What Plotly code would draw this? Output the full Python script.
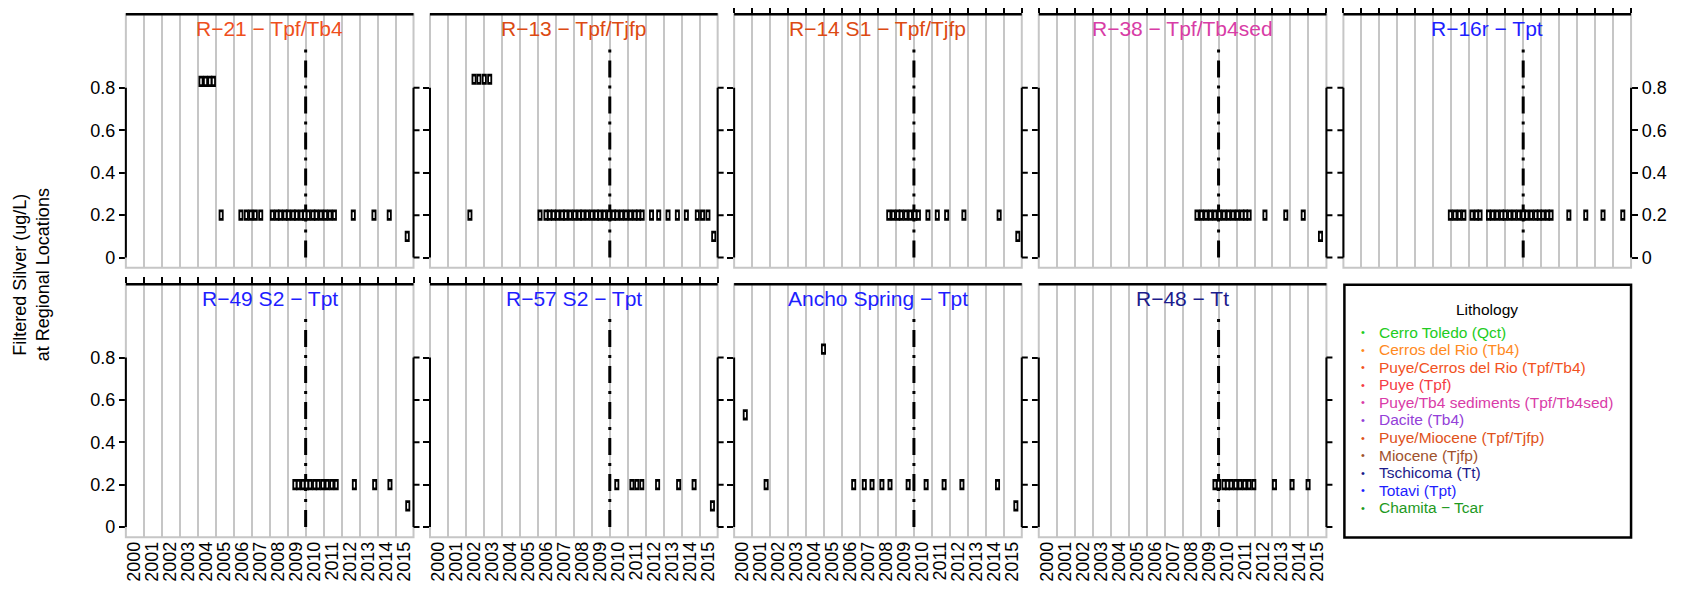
import plotly.graph_objects as go

# ---------------- data ----------------
panel_titles = ["R−21 − Tpf/Tb4", "R−13 − Tpf/Tjfp", "R−14 S1 − Tpf/Tjfp", "R−38 − Tpf/Tb4sed",
                "R−16r − Tpt", "R−49 S2 − Tpt", "R−57 S2 − Tpt", "Ancho Spring − Tpt", "R−48 − Tt"]
panel_title_colors = ["#EE4F1C", "#DC4A12", "#DC4A12", "#D83CA6", "#1E1EFF",
                      "#1E1EFF", "#1E1EFF", "#1E1EFF", "#1C1C8C"]

r21_dates = [2004.18, 2004.43, 2004.67, 2004.87,
             2005.3, 2006.4, 2006.7, 2006.95, 2007.2, 2007.5,
             2008.15, 2008.4, 2008.6, 2008.85, 2009.05, 2009.3, 2009.5, 2009.75, 2009.95,
             2010.15, 2010.4, 2010.6, 2010.85, 2011.1, 2011.35, 2011.6,
             2012.65, 2013.8, 2014.65, 2015.65]
r21_vals = [0.83, 0.83, 0.83, 0.83,
            0.2, 0.2, 0.2, 0.2, 0.2, 0.2,
            0.2, 0.2, 0.2, 0.2, 0.2, 0.2, 0.2, 0.2, 0.2,
            0.2, 0.2, 0.2, 0.2, 0.2, 0.2, 0.2,
            0.2, 0.2, 0.2, 0.1]

r13_dates = [2002.45, 2002.72, 2003.02, 2003.32, 2002.22,
             2006.12, 2006.45, 2006.65, 2006.87, 2007.1, 2007.35, 2007.55, 2007.8, 2008.05,
             2008.3, 2008.5, 2008.75, 2009.0, 2009.25, 2009.45, 2009.7, 2009.95, 2010.2,
             2010.4, 2010.65, 2010.9, 2011.15, 2011.4, 2011.6, 2011.8,
             2012.32, 2012.72, 2013.24, 2013.76, 2014.26, 2014.87, 2015.16, 2015.46, 2015.78]
r13_vals = [0.84, 0.84, 0.84, 0.84, 0.2,
            0.2, 0.2, 0.2, 0.2, 0.2, 0.2, 0.2, 0.2, 0.2,
            0.2, 0.2, 0.2, 0.2, 0.2, 0.2, 0.2, 0.2, 0.2,
            0.2, 0.2, 0.2, 0.2, 0.2, 0.2, 0.2,
            0.2, 0.2, 0.2, 0.2, 0.2, 0.2, 0.2, 0.2, 0.1]

r14_dates = [2008.6, 2008.85, 2009.1, 2009.3, 2009.55, 2009.8, 2010.05, 2010.25,
             2010.78, 2011.3, 2011.82, 2012.78, 2014.74, 2015.78]
r14_vals = [0.2, 0.2, 0.2, 0.2, 0.2, 0.2, 0.2, 0.2,
            0.2, 0.2, 0.2, 0.2, 0.2, 0.1]

r38_dates = [2008.8, 2009.05, 2009.3, 2009.55, 2009.8, 2010.05, 2010.3, 2010.55, 2010.8,
             2011.05, 2011.3, 2011.5, 2011.7, 2012.58, 2013.74, 2014.71, 2015.67]
r38_vals = [0.2, 0.2, 0.2, 0.2, 0.2, 0.2, 0.2, 0.2, 0.2,
            0.2, 0.2, 0.2, 0.2, 0.2, 0.2, 0.2, 0.1]

r16r_dates = [2005.95, 2006.2, 2006.45, 2006.7, 2007.15, 2007.4, 2007.6,
              2008.07, 2008.3, 2008.55, 2008.8, 2009.0, 2009.25, 2009.5, 2009.75, 2010.0,
              2010.2, 2010.45, 2010.7, 2010.9, 2011.1, 2011.35, 2011.55,
              2012.54, 2013.48, 2014.44, 2015.54]
r16r_vals = [0.2] * 27

r49_dates = [2009.4, 2009.6, 2009.85, 2010.05, 2010.25, 2010.5, 2010.7, 2010.95, 2011.2,
             2011.45, 2011.7, 2012.71, 2013.84, 2014.69, 2015.68]
r49_vals = [0.2, 0.2, 0.2, 0.2, 0.2, 0.2, 0.2, 0.2, 0.2,
            0.2, 0.2, 0.2, 0.2, 0.2, 0.1]

r57_dates = [2010.39, 2011.23, 2011.5, 2011.78, 2012.66, 2013.83, 2014.69, 2015.71]
r57_vals = [0.2, 0.2, 0.2, 0.2, 0.2, 0.2, 0.2, 0.1]

ancho_dates = [2000.62, 2001.78, 2004.97, 2006.65, 2007.24, 2007.67, 2008.22, 2008.67,
               2009.68, 2010.68, 2011.68, 2012.67, 2014.65, 2015.67]
ancho_vals = [0.53, 0.2, 0.84, 0.2, 0.2, 0.2, 0.2, 0.2,
              0.2, 0.2, 0.2, 0.2, 0.2, 0.1]

r48_dates = [2009.8, 2010.0, 2010.3, 2010.5, 2010.7, 2010.95, 2011.2, 2011.45, 2011.7,
             2011.96, 2013.11, 2014.09, 2014.98]
r48_vals = [0.2] * 13

panel_dates = [r21_dates, r13_dates, r14_dates, r38_dates, r16r_dates,
               r49_dates, r57_dates, ancho_dates, r48_dates]
panel_vals = [r21_vals, r13_vals, r14_vals, r38_vals, r16r_vals,
              r49_vals, r57_vals, ancho_vals, r48_vals]

ref_year = 2010
ref_line_y = [0, 1.0]

year_ticks = list(range(2000, 2017))
year_labels = [str(y) for y in range(2000, 2016)]
y_ticks = [0, 0.2, 0.4, 0.6, 0.8]
y_tick_text = ["0", "0.2", "0.4", "0.6", "0.8"]

legend_labels = ["Cerro Toledo (Qct)", "Cerros del Rio (Tb4)", "Puye/Cerros del Rio (Tpf/Tb4)",
                 "Puye (Tpf)", "Puye/Tb4 sediments (Tpf/Tb4sed)", "Dacite (Tb4)",
                 "Puye/Miocene (Tpf/Tjfp)", "Miocene (Tjfp)", "Tschicoma (Tt)", "Totavi (Tpt)",
                 "Chamita − Tcar"]
legend_colors = ["#22CC22", "#FF8A1E", "#F2521E", "#F53B45", "#D93BA8", "#9440D8",
                 "#E0521A", "#A0522D", "#1C1C8C", "#1E1EFF", "#1E9A1E"]

# ---------------- layout geometry ----------------
PAGE_OFF = 8                      # default page body margin
W, H = 1683 - PAGE_OFF, 594 - PAGE_OFF


def px_x(px):
    return (px - PAGE_OFF) / W


def px_y(py):
    return 1 - (py - PAGE_OFF) / H


FONT = "Liberation Sans, Arial, Helvetica, sans-serif"
GRID = "#C6C6C6"
col_left = [124, 428.5, 733, 1038, 1343]
panel_w = 288
row_top = [9.3, 281.7]
row_bot = [265, 536.7]
y_range = [-0.048, 1.146]
top_ticks = [False, False, True, True, True, True, True, False, False]
label_offset = 0.47
TICK = 6

fig = go.Figure()
layout = dict(width=W, height=H, margin=dict(l=0, r=0, t=0, b=0),
              paper_bgcolor="white", plot_bgcolor="white", showlegend=False,
              font=dict(family=FONT, color="black"))
shapes = []
annotations = []

for k in range(9):
    row, col = divmod(k, 5)
    sfx = "" if k == 0 else str(k + 1)
    xd = [px_x(col_left[col]), px_x(col_left[col] + panel_w)]
    yd = [px_y(row_bot[row]), px_y(row_top[row])]
    layout["xaxis" + sfx] = dict(
        domain=xd, range=[2000, 2016], anchor="y" + sfx, side="top",
        tickmode="array", tickvals=year_ticks, showticklabels=False,
        showgrid=True, gridcolor=GRID, gridwidth=2,
        ticks="outside" if top_ticks[k] else "", ticklen=TICK, tickwidth=2, tickcolor="black",
        zeroline=False, showline=False, fixedrange=True)
    right_side = (k == 4)
    layout["yaxis" + sfx] = dict(
        domain=yd, range=y_range, anchor="x" + sfx,
        side="right" if right_side else "left",
        tickmode="array", tickvals=y_ticks, ticktext=y_tick_text,
        showticklabels=k in (0, 4, 5), tickfont=dict(size=18, family=FONT, color="black"),
        ticks="outside", ticklen=TICK, tickwidth=2, tickcolor="black",
        showgrid=False, zeroline=False, showline=False, fixedrange=True)
    if row == 1:
        lab_sfx = str(10 + col)
        layout["xaxis" + lab_sfx] = dict(
            overlaying="x" + sfx, anchor="y" + sfx, side="bottom", range=[2000, 2016],
            tickmode="array", tickvals=[int(s) + label_offset for s in year_labels],
            ticktext=year_labels, tickangle=-90, ticks="",
            tickfont=dict(size=18, family=FONT, color="black"),
            showgrid=False, zeroline=False, showline=False, fixedrange=True)
        fig.add_trace(go.Scatter(x=[None], y=[None], mode="markers", xaxis="x" + lab_sfx,
                                 yaxis="y" + sfx, hoverinfo="skip"))

    # panel frame (grey), black top edge
    shapes.append(dict(type="rect", xref="x" + sfx + " domain", yref="y" + sfx + " domain",
                       x0=0, x1=1, y0=0, y1=1, line=dict(color=GRID, width=2)))
    shapes.append(dict(type="line", xref="x" + sfx + " domain", yref="y" + sfx + " domain",
                       x0=0, x1=1, y0=1, y1=1, line=dict(color="black", width=2.5)))
    # R-style y axis lines spanning the tick range on both sides
    for xe in (0, 1):
        shapes.append(dict(type="line", xref="x" + sfx + " domain", yref="y" + sfx,
                           x0=xe, x1=xe, y0=y_ticks[0], y1=y_ticks[-1],
                           line=dict(color="black", width=2)))
    # ticks on the side opposite the axis
    opp = 0 if right_side else 1
    direction = -1 if opp == 0 else 1
    for t in y_ticks:
        shapes.append(dict(type="line", xref="x" + sfx + " domain", yref="y" + sfx,
                           xsizemode="pixel", xanchor=opp, x0=0, x1=direction * TICK,
                           y0=t, y1=t, line=dict(color="black", width=2)))

    # reference (2010) dash-dot line
    fig.add_trace(go.Scatter(x=[ref_year, ref_year], y=ref_line_y, mode="lines",
                             line=dict(color="black", width=3, dash="17px,8px,3px,8px"),
                             xaxis="x" + sfx, yaxis="y" + sfx, hoverinfo="skip"))
    # data markers: black bar with white slit
    fig.add_trace(go.Scatter(x=panel_dates[k], y=panel_vals[k], mode="markers",
                             marker=dict(symbol="line-ns", size=8,
                                         line=dict(color="black", width=5)),
                             xaxis="x" + sfx, yaxis="y" + sfx))
    fig.add_trace(go.Scatter(x=panel_dates[k], y=panel_vals[k], mode="markers",
                             marker=dict(symbol="line-ns", size=4,
                                         line=dict(color="white", width=1.4)),
                             xaxis="x" + sfx, yaxis="y" + sfx, hoverinfo="skip"))
    # panel title
    annotations.append(dict(text=panel_titles[k], xref="x" + sfx + " domain",
                            yref="y" + sfx + " domain", x=0.5, y=1, xanchor="center",
                            yanchor="top", yshift=-1, showarrow=False,
                            font=dict(size=21, family=FONT, color=panel_title_colors[k])))

# legend panel
leg_x0, leg_x1, leg_y0, leg_y1 = 1344, 1631, 282, 537
shapes.append(dict(type="rect", xref="paper", yref="paper",
                   x0=px_x(leg_x0), x1=px_x(leg_x1), y0=px_y(leg_y1), y1=px_y(leg_y0),
                   line=dict(color="black", width=2.5)))
annotations.append(dict(text="Lithology", xref="paper", yref="paper",
                        x=px_x(1487), y=px_y(307), xanchor="center", yanchor="middle",
                        showarrow=False, font=dict(size=15.5, family=FONT, color="black")))
for i, (lab, c) in enumerate(zip(legend_labels, legend_colors)):
    yy = px_y(330 + i * 17.7)
    annotations.append(dict(text="•", xref="paper", yref="paper", x=px_x(1363), y=yy,
                            xanchor="center", yanchor="middle", showarrow=False,
                            font=dict(size=11, family=FONT, color=c)))
    annotations.append(dict(text=lab, xref="paper", yref="paper", x=px_x(1377), y=yy,
                            xanchor="left", yanchor="middle", showarrow=False,
                            font=dict(size=15.5, family=FONT, color=c)))

# y-axis title
annotations.append(dict(text="Filtered Silver (ug/L)<br>at Regional Locations",
                        xref="paper", yref="paper", x=px_x(29.5), y=px_y(272),
                        xanchor="center", yanchor="middle", textangle=-90, showarrow=False,
                        font=dict(size=18, family=FONT, color="black")))

layout["shapes"] = shapes
layout["annotations"] = annotations
fig.update_layout(**layout)
fig.write_html("out.html")
